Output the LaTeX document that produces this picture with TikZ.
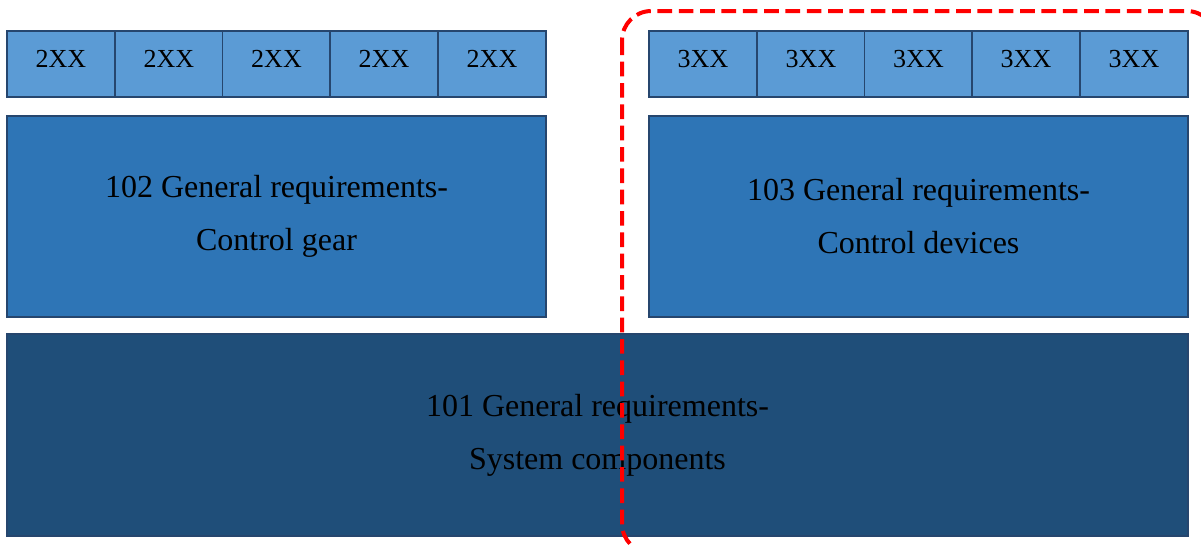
\documentclass[tikz,border=0pt]{standalone}
\usepackage{fontspec}
\setmainfont{Liberation Serif}
\usepackage{tikz}

\definecolor{lightblue}{RGB}{91,155,213}
\definecolor{midblue}{RGB}{46,117,182}
\definecolor{darkblue}{RGB}{31,78,121}
\definecolor{edgeblue}{RGB}{38,70,110}

\tikzset{
  box/.style={draw=edgeblue, line width=1.4pt, inner sep=0pt, align=center,
    font=\fontsize{24}{39.75}\selectfont},
  smallbox/.style={box, fill=lightblue, minimum width=81pt, minimum height=49.5pt,
    text depth=7pt, font=\fontsize{19.5}{22}\selectfont},
  midbox/.style={box, fill=midblue, minimum width=404pt, minimum height=150.75pt},
  basebox/.style={box, fill=darkblue, minimum width=886pt, minimum height=151.5pt},
}

\begin{document}
\begin{tikzpicture}[x=0.75pt, y=-0.75pt]
    \useasboundingbox (0, 0) rectangle (1201, 544);
    \clip (0, 0) rectangle (1201, 544);
    % top rows
    \foreach \i/\x in {1/61, 2/169, 3/276.5, 4/384, 5/492}
      \node [smallbox] (two\i) at (\x, 64) {2XX};
    \foreach \i/\x in {1/703, 2/811, 3/918.5, 4/1026, 5/1134}
      \node [smallbox] (three\i) at (\x, 64) {3XX};
    % general requirements
    \node [midbox] (gear) at (276.5, 216.5) {102 General requirements-\\Control gear};
    \node [midbox] (devices) at (918.5, 216.5) {103 General requirements-\\Control devices};
    \node [basebox] (system) at (597.5, 435) {101 General requirements-\\System components};
    % devices part
    \draw [red, line width=3pt, dash pattern=on 11pt off 5pt, rounded corners=22pt]
      (622, 11) rectangle (1216, 553);
  \end{tikzpicture}
\end{document}
